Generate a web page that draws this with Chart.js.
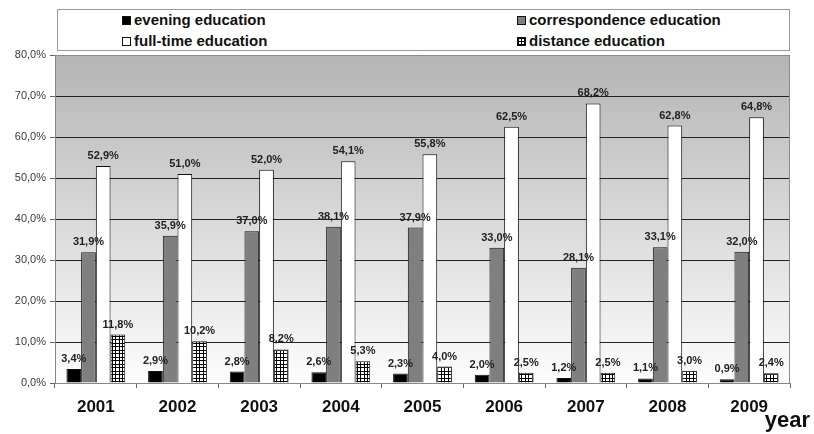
<!DOCTYPE html>
<html>
<head>
<meta charset="utf-8">
<script src="https://cdn.jsdelivr.net/npm/chart.js@4/dist/chart.umd.min.js"></script>
<style>
  html, body { margin: 0; padding: 0; background: #fff; }
  #wrap { position: relative; width: 814px; height: 434px; }
  #legend {
    position: absolute; left: 57px; top: 9px; width: 731px; height: 40px;
    border: 1px solid #9a9a9a; background: #fff;
    font: bold 15px "Liberation Sans", Arial, sans-serif; color: #111;
  }
  .item { position: absolute; white-space: nowrap; line-height: 18px; }
  .sw { display: inline-block; width: 9px; height: 9px; border: 1px solid #111;
        margin-right: 3px; vertical-align: 0px; box-sizing: border-box; }
</style>
</head>
<body>
<div id="wrap">
  <canvas id="c" width="814" height="434"></canvas>
  <div id="legend"></div>
</div>
<script>
// Years and shares of students by form of education, %
const years = ['2001', '2002', '2003', '2004', '2005', '2006', '2007', '2008', '2009'];
const evening = [3.4, 2.9, 2.8, 2.6, 2.3, 2.0, 1.2, 1.1, 0.9];
const correspondence = [31.9, 35.9, 37.0, 38.1, 37.9, 33.0, 28.1, 33.1, 32.0];
const fullTime = [52.9, 51.0, 52.0, 54.1, 55.8, 62.5, 68.2, 62.8, 64.8];
const distance = [11.8, 10.2, 8.2, 5.3, 4.0, 2.5, 2.5, 3.0, 2.4];
const seriesNames = ['evening education', 'correspondence education', 'full-time education', 'distance education'];

const FONT = '"Liberation Sans", Arial, sans-serif';
Chart.defaults.font.family = FONT;

// Small grid hatch used for distance education
function gridPattern() {
  const p = document.createElement('canvas');
  p.width = 7; p.height = 7;
  const g = p.getContext('2d');
  g.fillStyle = '#fff'; g.fillRect(0, 0, 7, 7);
  g.fillStyle = '#000';
  [0, 3].forEach(k => {
    g.fillRect(0, k, 7, 1);
    g.fillRect(k, 0, 1, 7);
  });
  return document.getElementById('c').getContext('2d').createPattern(p, 'repeat');
}
const hatch = gridPattern();

const fmt = v => v.toFixed(1).replace('.', ',') + '%';

// Gray-to-white plot background with a thin frame
const plotBackground = {
  id: 'plotBackground',
  beforeDraw(chart) {
    const { ctx, chartArea: a } = chart;
    const g = ctx.createLinearGradient(0, a.top, 0, a.bottom);
    g.addColorStop(0, '#b4b4b4');
    g.addColorStop(1, '#fdfdfd');
    ctx.save();
    ctx.fillStyle = g;
    ctx.fillRect(a.left, a.top, a.right - a.left, a.bottom - a.top);
    ctx.restore();
  },
  afterDraw(chart) {
    const { ctx, chartArea: a } = chart;
    ctx.save();
    ctx.strokeStyle = '#8a8a8a';
    ctx.lineWidth = 1;
    ctx.beginPath();
    ctx.moveTo(a.left, a.top + 0.5);
    ctx.lineTo(a.right - 0.5, a.top + 0.5);
    ctx.lineTo(a.right - 0.5, a.bottom);
    ctx.stroke();
    // axis caption
    ctx.fillStyle = '#111';
    ctx.font = 'bold 22px ' + FONT;
    ctx.textAlign = 'right';
    ctx.textBaseline = 'alphabetic';
    ctx.fillText('year', 810, 427);
    ctx.restore();
  }
};

// Value labels above each bar
const valueLabels = {
  id: 'valueLabels',
  afterDatasetsDraw(chart) {
    const { ctx } = chart;
    ctx.save();
    ctx.font = 'bold 11px ' + FONT;
    ctx.fillStyle = '#222';
    ctx.textAlign = 'center';
    ctx.textBaseline = 'alphabetic';
    chart.data.datasets.forEach((ds, i) => {
      chart.getDatasetMeta(i).data.forEach((el, j) => {
        ctx.fillText(fmt(ds.data[j]), el.x, el.y - 7);
      });
    });
    ctx.restore();
  }
};

const common = { borderColor: '#111', borderWidth: 1, categoryPercentage: 0.72, barPercentage: 1.0 };

new Chart(document.getElementById('c'), {
  type: 'bar',
  data: {
    labels: years,
    datasets: [
      { label: seriesNames[0], data: evening, backgroundColor: '#000', ...common },
      { label: seriesNames[1], data: correspondence, backgroundColor: '#7f7f7f', ...common },
      { label: seriesNames[2], data: fullTime, backgroundColor: '#fff', ...common },
      { label: seriesNames[3], data: distance, backgroundColor: hatch, ...common }
    ]
  },
  options: {
    responsive: false,
    animation: false,
    layout: { padding: { top: 55, right: 24, left: 0, bottom: 0 } },
    plugins: { legend: { display: false }, tooltip: { enabled: false } },
    scales: {
      x: {
        grid: { drawOnChartArea: false, drawTicks: true, tickLength: 5, offset: true, color: '#666' },
        border: { display: true, color: '#888' },
        ticks: { font: { size: 17, weight: 'bold' }, color: '#111', padding: 9 },
        afterFit(s) { s.height = 51; }
      },
      y: {
        min: 0, max: 80,
        ticks: { stepSize: 10, callback: v => fmt(v), font: { size: 11 }, color: '#3a3a3a', padding: 4 },
        grid: { color: '#222', lineWidth: 1, tickLength: 5, tickColor: '#666' },
        border: { display: true, color: '#888' },
        afterFit(s) { s.width = 55; }
      }
    }
  },
  plugins: [plotBackground, valueLabels]
});

// Legend in two columns
const legendEl = document.getElementById('legend');
const swatches = ['background:#000', 'background:#7f7f7f', 'background:#fff',
  'background-color:#fff;background-image:linear-gradient(#000 1px,transparent 1px),linear-gradient(90deg,#000 1px,transparent 1px);background-size:3px 3px'];
const pos = [[64, 1], [459, 1], [64, 22], [459, 22]];
seriesNames.forEach((n, i) => {
  const d = document.createElement('div');
  d.className = 'item';
  d.style.left = pos[i][0] + 'px';
  d.style.top = pos[i][1] + 'px';
  d.innerHTML = '<span class="sw" style="' + swatches[i] + '"></span>' + n;
  legendEl.appendChild(d);
});
</script>
</body>
</html>
